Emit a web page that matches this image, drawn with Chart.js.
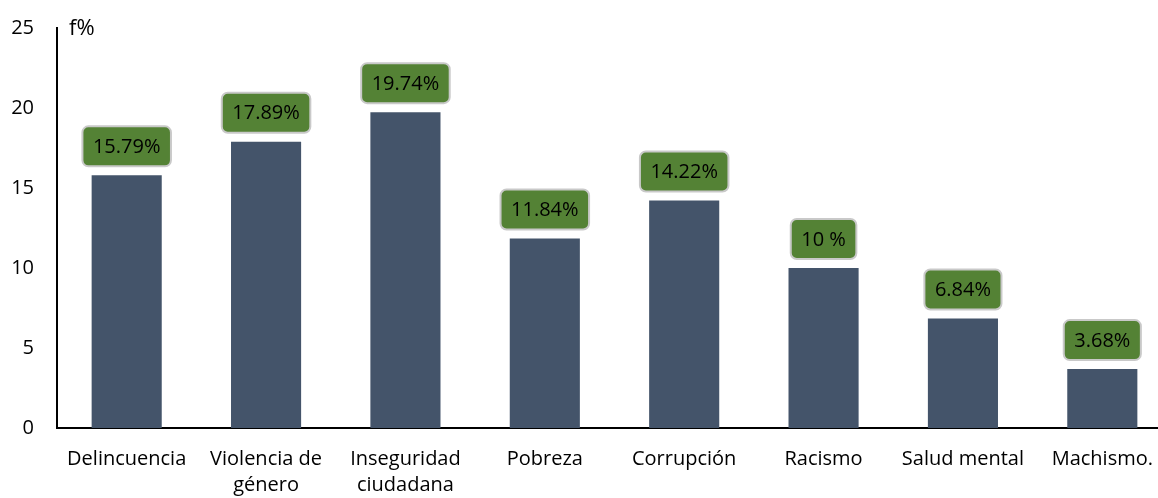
<!DOCTYPE html>
<html>
<head>
<meta charset="utf-8">
<script src="https://cdn.jsdelivr.net/npm/chart.js@4"></script>
<style>
  html, body { margin: 0; padding: 0; background: #fff; overflow: hidden; }
  #wrap { width: 1176px; height: 498px; }
</style>
</head>
<body>
<div id="wrap"><canvas id="problemasChart"></canvas></div>
<script>
const categorias = [
    "Delincuencia",
    ["Violencia de", "género"],
    ["Inseguridad", "ciudadana"],
    "Pobreza",
    "Corrupción",
    "Racismo",
    "Salud mental",
    "Machismo."
];
const porcentajes = [15.79, 17.89, 19.74, 11.84, 14.22, 10, 6.84, 3.68];
const etiquetas = ["15.79%", "17.89%", "19.74%", "11.84%", "14.22%", "10 %", "6.84%", "3.68%"];
const ticksY = [0, 5, 10, 15, 20, 25];

const fuente = "'Open Sans', sans-serif";

// Etiquetas verdes encima de cada barra
const etiquetasPlugin = {
    id: "etiquetasVerdes",
    afterDatasetsDraw(chart) {
        const c = chart.ctx;
        const meta = chart.getDatasetMeta(0);
        c.save();
        c.font = "20px " + fuente;
        c.textAlign = "center";
        c.textBaseline = "middle";
        meta.data.forEach((bar, i) => {
            const txt = etiquetas[i];
            const w = c.measureText(txt).width + 21;
            const h = 40;
            const cy = bar.y - 29;
            const x = bar.x - w / 2;
            const y = cy - h / 2;
            c.beginPath();
            c.roundRect(x, y, w, h, 6);
            c.fillStyle = "#548235";
            c.fill();
            c.lineWidth = 2;
            c.strokeStyle = "#c9c9c9";
            c.stroke();
            c.fillStyle = "#000";
            c.fillText(txt, bar.x, cy + 1);
        });
        // título del eje
        c.textAlign = "left";
        c.font = "22px " + fuente;
        c.fillText("f%", chart.chartArea.left + 12, chart.chartArea.top + 1);
        c.restore();
    }
};

const ctx = document.getElementById("problemasChart").getContext("2d");

new Chart(ctx, {
    type: "bar",
    data: {
        labels: categorias,
        datasets: [{
            data: porcentajes,
            backgroundColor: "#44546a",
            categoryPercentage: 1,
            barPercentage: 0.503,
        }]
    },
    options: {
        responsive: true,
        maintainAspectRatio: false,
        animation: false,
        layout: { padding: { top: 28, right: 4, left: 0, bottom: 0 } },
        plugins: {
            legend: { display: false },
            tooltip: { enabled: false },
        },
        scales: {
            x: {
                afterFit(scale) {
                    scale.height = 70;
                },
                grid: { display: false, drawTicks: false },
                border: { color: "#000", width: 2 },
                ticks: {
                    color: "#000",
                    padding: 18,
                    maxRotation: 0,
                    autoSkip: false,
                    font: { family: fuente, size: 20, lineHeight: 1.3 },
                },
            },
            y: {
                min: 0,
                max: 25,
                afterBuildTicks(scale) {
                    scale.ticks = ticksY.map((v) => ({ value: v }));
                },
                afterFit(scale) {
                    scale.width = 57;
                    scale.paddingTop = 0;
                    scale.paddingBottom = 0;
                },
                grid: { display: false, drawTicks: false },
                border: { color: "#000", width: 2 },
                ticks: {
                    color: "#000",
                    padding: 23,
                    font: { family: fuente, size: 20 },
                },
            },
        },
    },
    plugins: [etiquetasPlugin],
});
</script>
</body>
</html>
